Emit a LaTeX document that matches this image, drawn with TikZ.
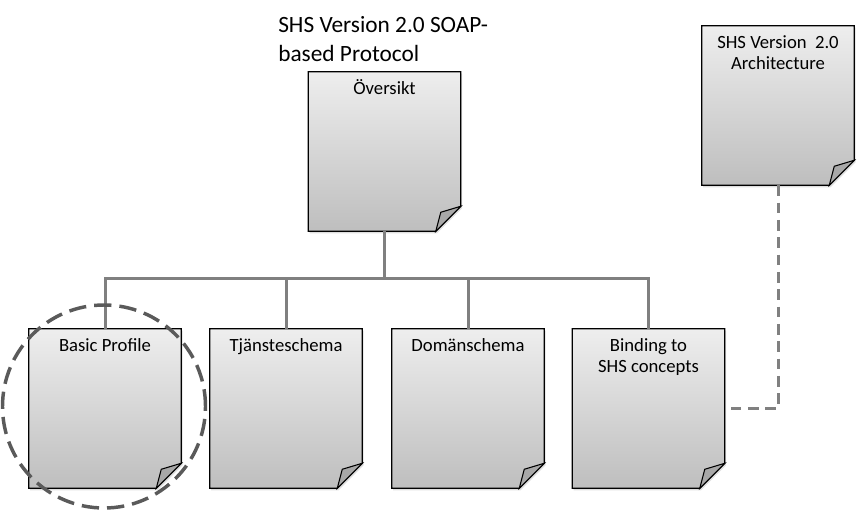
\documentclass[tikz,border=0pt]{standalone}
\usepackage{fontspec}
\setmainfont{Carlito}
\usetikzlibrary{calc,backgrounds,shadows}
\definecolor{sheettop}{HTML}{EEEEEE}
\definecolor{sheetbot}{HTML}{BEBEBE}
\definecolor{flapgray}{HTML}{A8A8A8}
\definecolor{wiregray}{HTML}{808080}
\definecolor{ringgray}{HTML}{5A5A5A}

% folded sheet drawn round a named node
\newcommand{\sheet}[1]{%
  \shade[top color=sheettop,bottom color=sheetbot,draw=black,line width=1pt,
    drop shadow={shadow xshift=1pt,shadow yshift=-1.5pt,opacity=0.25}]
    (#1.north west) -- (#1.north east) -- ($(#1.south east)+(0,-25)$)
    -- ($(#1.south east)+(-25,0)$) -- (#1.south west) -- cycle;
  \filldraw[fill=flapgray,draw=black,line width=0.8pt]
    ($(#1.south east)+(-25,0)$) -- ($(#1.south east)+(-20,-19)$)
    -- ($(#1.south east)+(0,-25)$) -- cycle;
}

\tikzset{
  sheetnode/.style={minimum width=114pt,inner sep=0pt,align=center,
    text height=16.5pt,text depth=102.75pt,
    font=\fontsize{14}{16}\selectfont},
  twoline/.style={text height=32.5pt,text depth=86.75pt},
  wire/.style={draw=wiregray,line width=2.25pt},
  link/.style={draw=wiregray,line width=2.25pt,dash pattern=on 8pt off 5pt},
  ring/.style={circle,draw=ringgray,line width=2.6pt,dash pattern=on 13pt off 6pt,inner sep=0pt},
}

\begin{document}
\begin{tikzpicture}[x=0.75pt,y=-0.75pt]
\useasboundingbox (0,0) rectangle (859,510);

\node[anchor=base west,align=left,inner sep=0pt,font=\fontsize{17.5}{21}\selectfont] (title) at (278,61)
  {SHS Version 2.0 SOAP-\\based Protocol};

\node[sheetnode] (ovr) at (384.5,151.5) {Översikt};
\node[sheetnode,font=\fontsize{14}{15.5}\selectfont,text height=32.75pt,text depth=86.5pt]
  (arch) at (778,105.5) {SHS Version\ \ 2.0\\Architecture};
\node[sheetnode] (bp) at (105,408.5) {Basic Profile};
\node[sheetnode] (tja) at (286,408.5) {Tjänsteschema};
\node[sheetnode] (dom) at (468,408.5) {Domänschema};
\node[sheetnode,twoline] (bnd) at (648.5,408.5) {Binding to\\SHS concepts};

\coordinate (bus) at (384.5,278);

\begin{scope}[on background layer]
\foreach \n in {ovr,arch,bp,tja,dom,bnd}{
  \sheet{\n}
}
\draw[wire] (ovr.south) -- (bus);
\draw[wire] (bp.north) -- (bp.north |- bus) -- (bnd.north |- bus) -- (bnd.north);
\draw[wire] (tja.north) -- (tja.north |- bus);
\draw[wire] (dom.north) -- (dom.north |- bus);
\draw[link] (arch.south) |- (bnd.east);
\end{scope}

\node[ring,minimum size=152.25pt] (focus) at (104,406.5) {};
\end{tikzpicture}
\end{document}
